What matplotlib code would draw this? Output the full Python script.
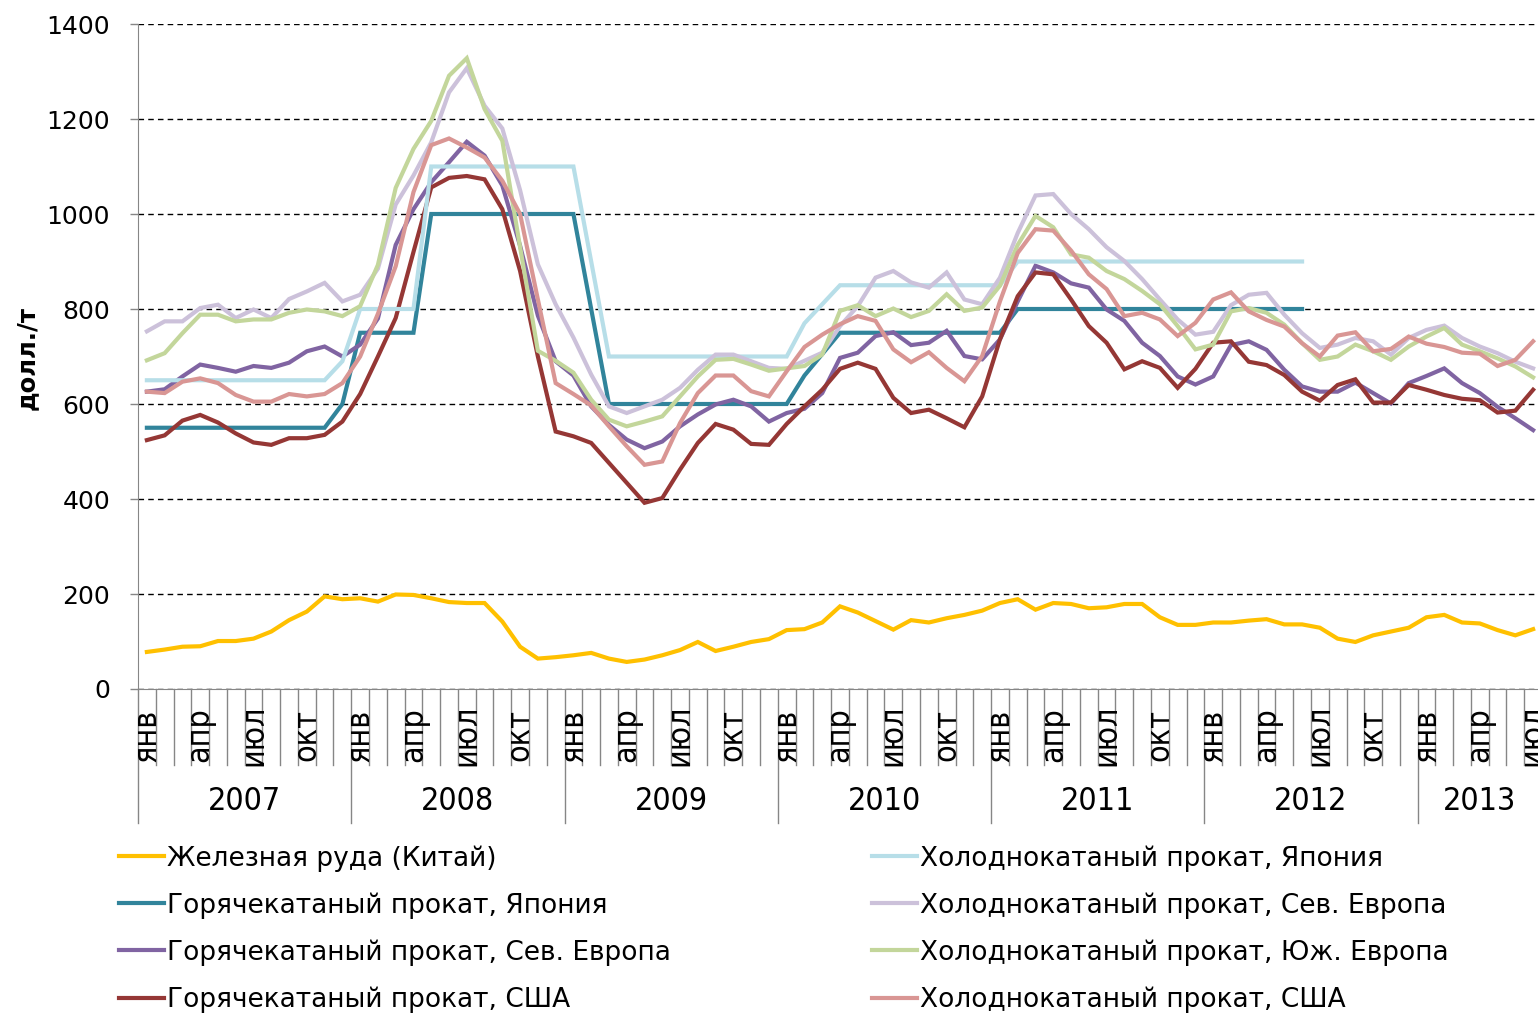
import numpy as np
import matplotlib
matplotlib.use("Agg")
import matplotlib.pyplot as plt
from matplotlib import font_manager as fm

# monthly prices, Jan 2007 .. Jul 2013, USD/t
months = ['янв', 'фев', 'мар', 'апр', 'май', 'июн', 'июл', 'авг', 'сен', 'окт', 'ноя', 'дек']
years = [2007, 2008, 2009, 2010, 2011, 2012, 2013]
n_months = 79

iron_ore = [78, 83, 89, 90, 101, 101, 106, 121, 145, 163, 195, 189,
            191, 184, 199, 198, 191, 183, 181, 181, 142, 89, 64, 67,
            71, 76, 64, 57, 62, 71, 82, 99, 80, 89, 99, 105,
            124, 126, 140, 174, 161, 143, 125, 145, 140, 149, 156, 165,
            181, 189, 167, 181, 179, 170, 172, 179, 179, 151, 135, 135,
            140, 140, 144, 147, 136, 136, 129, 106, 99, 113, 121, 129,
            151, 156, 140, 138, 124, 113, 126]

hr_japan = [550] * 11 + [600] + [750] * 4 + [1000] * 9 + [800] + [600] * 11 + \
           [660, 705] + [750] * 10 + [800] * 17

hr_neurope = [626, 631, 658, 683, 676, 668, 680, 676, 687, 711, 721, 700,
              725, 780, 935, 1010, 1067, 1109, 1152, 1123, 1060, 933, 786, 690,
              660, 595, 556, 525, 507, 521, 553, 578, 599, 609, 595, 563,
              581, 590, 623, 697, 708, 743, 751, 724, 729, 754, 701, 694,
              736, 816, 891, 877, 854, 845, 799, 775, 729, 701, 658, 641,
              658, 724, 732, 714, 672, 637, 626, 626, 645, 623, 601, 644,
              659, 675, 644, 623, 594, 570, 545]

hr_usa = [524, 534, 565, 577, 561, 538, 519, 514, 528, 528, 535, 563,
          621, 700, 781, 920, 1056, 1076, 1080, 1073, 1010, 880, 700, 542,
          532, 518, 476, 434, 392, 402, 462, 518, 558, 546, 516, 514,
          558, 595, 630, 674, 687, 674, 613, 581, 588, 570, 551, 616,
          736, 827, 877, 873, 820, 764, 729, 673, 690, 676, 634, 674,
          729, 732, 689, 682, 661, 626, 607, 640, 652, 603, 603, 640,
          630, 619, 611, 608, 582, 586, 630]

cr_japan = [650] * 11 + [690] + [800] * 4 + [1100] * 9 + [900] + [700] * 11 + \
           [770, 810] + [850] * 10 + [900] * 17

cr_neurope = [753, 774, 774, 802, 809, 781, 799, 781, 821, 837, 855, 816,
              830, 885, 1020, 1081, 1151, 1256, 1307, 1228, 1180, 1050, 894, 810,
              740, 662, 595, 581, 595, 609, 634, 672, 704, 704, 690, 676,
              674, 691, 708, 764, 806, 866, 880, 856, 845, 877, 820, 810,
              866, 960, 1039, 1042, 1000, 968, 930, 901, 863, 820, 778, 746,
              752, 808, 830, 834, 788, 749, 718, 725, 739, 732, 704, 739,
              756, 765, 739, 721, 707, 689, 675]

cr_seurope = [692, 707, 749, 788, 788, 774, 778, 778, 792, 799, 795, 785,
              806, 893, 1055, 1137, 1196, 1291, 1328, 1221, 1154, 930, 712, 691,
              666, 609, 567, 553, 563, 574, 616, 658, 693, 695, 683, 670,
              675, 680, 704, 796, 808, 785, 801, 783, 796, 831, 796, 803,
              849, 935, 996, 972, 915, 908, 880, 863, 838, 810, 764, 715,
              725, 795, 802, 792, 767, 728, 693, 700, 725, 711, 693, 721,
              742, 760, 725, 711, 696, 679, 656]

cr_usa = [626, 623, 647, 654, 644, 619, 605, 605, 621, 616, 621, 644,
          700, 790, 890, 1046, 1145, 1159, 1140, 1119, 1070, 1000, 820, 644,
          621, 597, 553, 511, 472, 479, 560, 623, 660, 660, 627, 616,
          669, 720, 746, 768, 785, 775, 715, 688, 709, 676, 648, 701,
          816, 918, 968, 965, 923, 873, 842, 785, 792, 778, 743, 771,
          820, 835, 795, 777, 763, 728, 700, 744, 751, 711, 716, 742,
          727, 720, 708, 706, 680, 693, 732]

series = [
    ('Железная руда (Китай)', iron_ore, '#FFC000'),
    ('Горячекатаный прокат, Япония', hr_japan, '#31849B'),
    ('Горячекатаный прокат, Сев. Европа', hr_neurope, '#8064A2'),
    ('Горячекатаный прокат, США', hr_usa, '#953735'),
    ('Холоднокатаный прокат, Япония', cr_japan, '#B7DEE8'),
    ('Холоднокатаный прокат, Сев. Европа', cr_neurope, '#CCC1DA'),
    ('Холоднокатаный прокат, Юж. Европа', cr_seurope, '#C3D69B'),
    ('Холоднокатаный прокат, США', cr_usa, '#D99694'),
]

# narrow font for the category labels, if one is there
have = {(f.name, f.stretch) for f in fm.fontManager.ttflist}
if any(n == 'Liberation Sans Narrow' for n, s in have):
    cat_font = dict(family=['Liberation Sans Narrow', 'DejaVu Sans'], fontsize=24)
elif ('DejaVu Sans', 'condensed') in have:
    cat_font = dict(family=['DejaVu Sans'], fontstretch='condensed', fontsize=23)
else:
    cat_font = dict(family=['Liberation Sans', 'DejaVu Sans'], fontsize=22)

W, H = 1538, 1013
fig = plt.figure(figsize=(W / 100, H / 100), dpi=100)
ax = fig.add_axes([138 / W, 1 - 689 / H, 1404 / W, 665 / H])

lines = []
for name, vals, col in series:
    x = np.arange(len(vals))
    ln, = ax.plot(x, vals, color=col, lw=3, label=name, solid_joinstyle='miter')
    lines.append(ln)

ax.set_xlim(-0.5, n_months - 0.5)
ax.set_ylim(0, 1400)
ax.set_yticks(range(0, 1401, 200))
ax.yaxis.grid(True, linestyle=(0, (4, 3)), color='black', lw=1)
ax.set_axisbelow(True)
ax.tick_params(axis='y', length=6, width=1, color='#868686', pad=14,
               labelsize=18)
ax.set_xticks([])
for s in ['top', 'right']:
    ax.spines[s].set_visible(False)
for s in ['left', 'bottom']:
    ax.spines[s].set_color('#868686')

# category axis: month separators, month and year labels
tr = ax.get_xaxis_transform()
axh = 665.0
for k in range(n_months + 1):
    depth = (823 - 689) / axh if k % 12 == 0 else (765 - 689) / axh
    ax.plot([k - 0.5, k - 0.5], [0, -depth], color='#868686', lw=1,
            transform=tr, clip_on=False)
for i in range(0, n_months, 3):
    ax.text(i, -(735 - 689) / axh, months[i % 12], rotation=90, ha='center',
            va='center', transform=tr, **cat_font)
for j, yr in enumerate(years):
    first = j * 12
    last = min(first + 11, n_months - 1)
    ax.text((first + last) / 2, -(802 - 689) / axh, str(yr), ha='center',
            va='center', transform=tr, **cat_font)

fig.text(27 / W, 1 - 358 / H, 'долл./т', rotation=90, ha='center',
         va='center', fontsize=17.5, fontweight='bold')

leg_kw = dict(frameon=False, fontsize=19, handlelength=1.7, handletextpad=0.12,
              labelspacing=0.78, borderpad=0, borderaxespad=0, loc='upper left')
leg1 = fig.legend(handles=lines[:4], bbox_to_anchor=(119 / W, 1 - 845 / H), **leg_kw)
leg2 = fig.legend(handles=lines[4:], bbox_to_anchor=(872 / W, 1 - 845 / H), **leg_kw)

fig.savefig('out.png', dpi=100)
